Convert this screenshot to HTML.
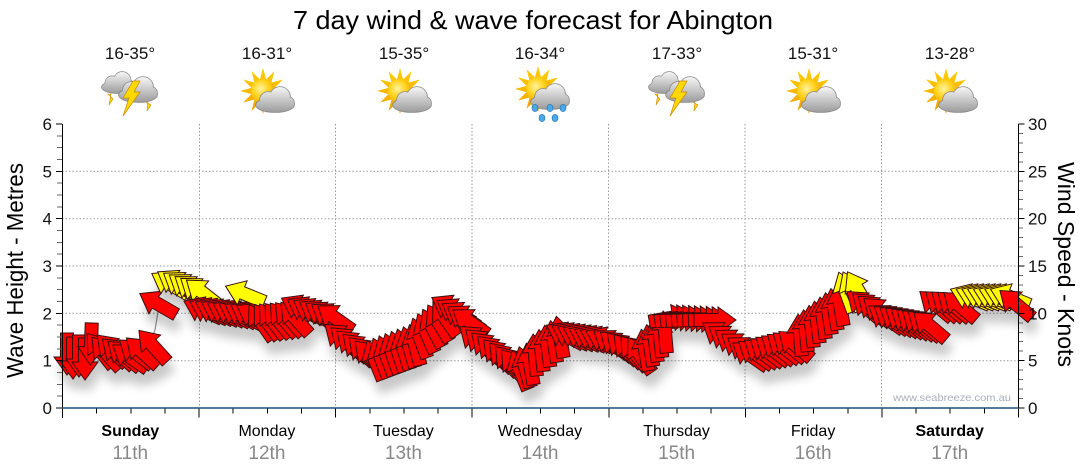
<!DOCTYPE html>
<html><head><meta charset="utf-8">
<style>
html,body{margin:0;padding:0;background:#fff;}
svg{display:block;}
text{font-family:"Liberation Sans",Arial,sans-serif;}
</style></head>
<body>
<svg width="1080" height="475" viewBox="0 0 1080 475" xmlns="http://www.w3.org/2000/svg">
<defs>
  <radialGradient id="sunG" cx="0.4" cy="0.4" r="0.7">
    <stop offset="0" stop-color="#fff2a0"/><stop offset="0.5" stop-color="#ffd21a"/><stop offset="1" stop-color="#f0a000"/>
  </radialGradient>
  <linearGradient id="rayG" x1="0" y1="0" x2="0" y2="1">
    <stop offset="0" stop-color="#ffd000"/><stop offset="1" stop-color="#f0a000"/>
  </linearGradient>
  <linearGradient id="cloudG" gradientUnits="userSpaceOnUse" x1="0" y1="-13" x2="0" y2="12">
    <stop offset="0" stop-color="#f6f6f6"/><stop offset="1" stop-color="#9c9c9c"/>
  </linearGradient>
  <g id="cloud">
    <g fill="#8a8a8a" stroke="#8a8a8a" stroke-width="1.6">
      <ellipse cx="0" cy="5" rx="19" ry="7"/><circle cx="-7" cy="0" r="8"/><circle cx="5" cy="-3" r="10"/><circle cx="13" cy="3" r="6"/>
    </g>
    <g fill="url(#cloudG)">
      <ellipse cx="0" cy="5" rx="19" ry="7"/><circle cx="-7" cy="0" r="8"/><circle cx="5" cy="-3" r="10"/><circle cx="13" cy="3" r="6"/>
    </g>
  </g>
  <g id="sun">
    <polygon fill="url(#rayG)" points="23,0 11.6,3.1 19.9,11.5 8.5,8.5 11.5,19.9 3.1,11.6 0,23 -3.1,11.6 -11.5,19.9 -8.5,8.5 -19.9,11.5 -11.6,3.1 -23,0 -11.6,-3.1 -19.9,-11.5 -8.5,-8.5 -11.5,-19.9 -3.1,-11.6 0,-23 3.1,-11.6 11.5,-19.9 8.5,-8.5 19.9,-11.5 11.6,-3.1"/>
    <circle r="12" fill="url(#sunG)"/>
  </g>
  <g id="sunc">
    <use href="#sun" x="-4" y="91"/>
    <use href="#cloud" x="8" y="100"/>
  </g>
  <g id="rain">
    <use href="#sun" x="-2" y="89"/>
    <use href="#cloud" x="10" y="97"/>
    <g fill="#4aa8e8" stroke="#1f6fb0" stroke-width="0.6">
      <ellipse cx="-5" cy="108" rx="3" ry="3.6"/><ellipse cx="10" cy="108" rx="3" ry="3.6"/><ellipse cx="23" cy="108" rx="3" ry="3.6"/>
      <ellipse cx="2" cy="118" rx="3" ry="3.6"/><ellipse cx="15" cy="118" rx="3" ry="3.6"/>
    </g>
  </g>
  <g id="bolt">
    <polygon points="3,-9 -7,8 -1,8 -7,26 10,2 4,2 10,-9" fill="#ffd800" stroke="#c98a00" stroke-width="0.7"/>
  </g>
  <g id="storm">
    <g fill="#ffd800" stroke="#c98a00" stroke-width="0.6">
      <polygon points="-22,94 -19,94 -21,105 -17,99"/>
      <polygon points="14,101 18,101 17,111 21,105"/>
    </g>
    <g transform="translate(-12,83) scale(0.85)"><use href="#cloud"/></g>
    <use href="#cloud" x="8" y="90"/>
    <use href="#bolt" x="0" y="90"/>
  </g>
  <filter id="sh" filterUnits="userSpaceOnUse" x="0" y="0" width="1080" height="475">
    <feGaussianBlur in="SourceAlpha" stdDeviation="5"/>
    <feOffset dx="3" dy="12" result="b"/>
    <feComponentTransfer in="b" result="c"><feFuncA type="linear" slope="0.22"/></feComponentTransfer>
    <feMerge><feMergeNode in="c"/><feMergeNode in="SourceGraphic"/></feMerge>
  </filter>
  <polygon id="ar" points="-21,-6.5 3,-6.5 3,-13 21,0 3,13 3,6.5 -21,6.5" stroke="#3a1010" stroke-width="1" stroke-linejoin="miter"/>
</defs>

<!-- Title -->
<text x="293" y="29" font-size="26" textLength="480" lengthAdjust="spacingAndGlyphs" fill="#000">7 day wind &amp; wave forecast for Abington</text>

<!-- temps -->
<g font-size="17" fill="#111" text-anchor="middle">
  <text x="130" y="59">16-35°</text>
  <text x="267" y="59">16-31°</text>
  <text x="404" y="59">15-35°</text>
  <text x="540" y="59">16-34°</text>
  <text x="677" y="59">17-33°</text>
  <text x="813" y="59">15-31°</text>
  <text x="950" y="59">13-28°</text>
</g>

<!-- icons -->
<use href="#storm" x="130" y="0"/>
<use href="#sunc" x="267" y="0"/>
<use href="#sunc" x="404" y="0"/>
<use href="#rain" x="540" y="0"/>
<use href="#storm" x="677" y="0"/>
<use href="#sunc" x="813" y="0"/>
<use href="#sunc" x="950" y="0"/>

<!-- grid -->
<g stroke="#9a9a9a" stroke-width="1" stroke-dasharray="1.5,2" fill="none">
  <line x1="62" y1="360.7" x2="1018" y2="360.7"/>
  <line x1="62" y1="313.3" x2="1018" y2="313.3"/>
  <line x1="62" y1="266" x2="1018" y2="266"/>
  <line x1="62" y1="218.7" x2="1018" y2="218.7"/>
  <line x1="62" y1="171.3" x2="1018" y2="171.3"/>
  <line x1="199.5" y1="124" x2="199.5" y2="408"/>
  <line x1="335.5" y1="124" x2="335.5" y2="408"/>
  <line x1="472" y1="124" x2="472" y2="408"/>
  <line x1="608.5" y1="124" x2="608.5" y2="408"/>
  <line x1="745" y1="124" x2="745" y2="408"/>
  <line x1="881.5" y1="124" x2="881.5" y2="408"/>
</g>

<!-- watermark -->
<text x="893" y="401" font-size="10.5" fill="#a9aebb" textLength="118" lengthAdjust="spacingAndGlyphs">www.seabreeze.com.au</text>

<!-- wave line fragment -->
<polyline points="152,338 155,330 158,312 163,303" fill="none" stroke="#8c8c8c" stroke-width="1.2"/>

<!-- arrows -->
<g filter="url(#sh)">
  <g fill="#ff0000">
    <!-- Sunday -->
    <use href="#ar" transform="translate(67,354) rotate(90)"/>
    <use href="#ar" transform="translate(73,358) rotate(90)"/>
    <use href="#ar" transform="translate(79,356) rotate(90)"/>
    <use href="#ar" transform="translate(85,359) rotate(90)"/>
    <use href="#ar" transform="translate(91,344) rotate(92)"/>
    <use href="#ar" transform="translate(100,350) rotate(-128)"/>
    <use href="#ar" transform="translate(106,353) rotate(-132)"/>
    <use href="#ar" transform="translate(112,350) rotate(-135)"/>
    <use href="#ar" transform="translate(118,353) rotate(-138)"/>
    <use href="#ar" transform="translate(124,355) rotate(-140)"/>
    <use href="#ar" transform="translate(130,357) rotate(-145)"/>
    <use href="#ar" transform="translate(136,353) rotate(-142)"/>
    <use href="#ar" transform="translate(142,352) rotate(-138)"/>
    <use href="#ar" transform="translate(153,346) rotate(-132)"/>
    <use href="#ar" transform="translate(158,304) rotate(-150)"/>
  </g>
  <g fill="#ffff00">
    <use href="#ar" transform="translate(170,284) rotate(-150)"/>
    <use href="#ar" transform="translate(175.5,283) rotate(-148)"/>
    <use href="#ar" transform="translate(181,285) rotate(-146)"/>
    <use href="#ar" transform="translate(186.5,287) rotate(-145)"/>
    <use href="#ar" transform="translate(192,289) rotate(-144)"/>
    <use href="#ar" transform="translate(197.5,291) rotate(-143)"/>
    <use href="#ar" transform="translate(203,293) rotate(-142)"/>
  </g>
  <g fill="#ff0000">
    <use href="#ar" transform="translate(203,310) rotate(-155)"/>
    <use href="#ar" transform="translate(208.8,310.7) rotate(-154.4)"/>
    <use href="#ar" transform="translate(214.6,311.3) rotate(-153.9)"/>
    <use href="#ar" transform="translate(220.3,312) rotate(-153.3)"/>
    <use href="#ar" transform="translate(226.1,312.7) rotate(-152.8)"/>
    <use href="#ar" transform="translate(231.9,313.3) rotate(-152.2)"/>
    <use href="#ar" transform="translate(237.7,314) rotate(-151.7)"/>
    <use href="#ar" transform="translate(243.4,314.7) rotate(-151.1)"/>
    <use href="#ar" transform="translate(249.2,315.3) rotate(-150.6)"/>
    <use href="#ar" transform="translate(255,316) rotate(-150)"/>
  </g>
  <use href="#ar" fill="#ffff00" transform="translate(245,294) rotate(-158)"/>
  <g fill="#ff0000">
    <use href="#ar" transform="translate(261,322) rotate(-125)"/>
    <use href="#ar" transform="translate(266.7,321.3) rotate(-126.2)"/>
    <use href="#ar" transform="translate(272.3,320.7) rotate(-127.3)"/>
    <use href="#ar" transform="translate(278,320) rotate(-128.5)"/>
    <use href="#ar" transform="translate(283.7,319.3) rotate(-129.7)"/>
    <use href="#ar" transform="translate(289.3,318.7) rotate(-130.8)"/>
    <use href="#ar" transform="translate(295,318) rotate(-132)"/>
    <use href="#ar" transform="translate(300,308) rotate(-152)"/>
    <use href="#ar" transform="translate(305.8,309.7) rotate(-150.8)"/>
    <use href="#ar" transform="translate(311.7,311.3) rotate(-149.7)"/>
    <use href="#ar" transform="translate(317.5,313) rotate(-148.5)"/>
    <use href="#ar" transform="translate(323.3,314.7) rotate(-147.3)"/>
    <use href="#ar" transform="translate(329.2,316.3) rotate(-146.2)"/>
    <use href="#ar" transform="translate(335,318) rotate(-145)"/>
    <!-- Tuesday -->
    <use href="#ar" transform="translate(341,338) rotate(-140)"/>
    <use href="#ar" transform="translate(346.8,341.6) rotate(-139)"/>
    <use href="#ar" transform="translate(352.6,345.2) rotate(-138)"/>
    <use href="#ar" transform="translate(358.4,348.8) rotate(-137)"/>
    <use href="#ar" transform="translate(364.2,352.4) rotate(-136)"/>
    <use href="#ar" transform="translate(370,356) rotate(-135)"/>
    <use href="#ar" transform="translate(375,360) rotate(-112)"/>
    <use href="#ar" transform="translate(380.7,357.9) rotate(-111)"/>
    <use href="#ar" transform="translate(386.4,355.7) rotate(-110)"/>
    <use href="#ar" transform="translate(392.1,353.6) rotate(-109)"/>
    <use href="#ar" transform="translate(397.9,351.4) rotate(-108)"/>
    <use href="#ar" transform="translate(403.6,349.3) rotate(-107)"/>
    <use href="#ar" transform="translate(409.3,347.1) rotate(-106)"/>
    <use href="#ar" transform="translate(415,345) rotate(-105)"/>
    <use href="#ar" transform="translate(420,338) rotate(-110)"/>
    <use href="#ar" transform="translate(426.3,333) rotate(-113.8)"/>
    <use href="#ar" transform="translate(432.5,328) rotate(-117.5)"/>
    <use href="#ar" transform="translate(438.8,323) rotate(-121.3)"/>
    <use href="#ar" transform="translate(445,318) rotate(-125)"/>
    <use href="#ar" transform="translate(450,308) rotate(-150)"/>
    <use href="#ar" transform="translate(455,311.5) rotate(-148.8)"/>
    <use href="#ar" transform="translate(460,315) rotate(-147.5)"/>
    <use href="#ar" transform="translate(465,318.5) rotate(-146.3)"/>
    <use href="#ar" transform="translate(470,322) rotate(-145)"/>
    <!-- Wednesday -->
    <use href="#ar" transform="translate(476,340) rotate(-140)"/>
    <use href="#ar" transform="translate(481.6,343.7) rotate(-138.6)"/>
    <use href="#ar" transform="translate(487.1,347.4) rotate(-137.1)"/>
    <use href="#ar" transform="translate(492.7,351.1) rotate(-135.7)"/>
    <use href="#ar" transform="translate(498.3,354.9) rotate(-134.3)"/>
    <use href="#ar" transform="translate(503.9,358.6) rotate(-132.9)"/>
    <use href="#ar" transform="translate(509.4,362.3) rotate(-131.4)"/>
    <use href="#ar" transform="translate(515,366) rotate(-130)"/>
    <use href="#ar" transform="translate(520,370) rotate(-112)"/>
    <use href="#ar" transform="translate(525,367) rotate(-106)"/>
    <use href="#ar" transform="translate(530,364) rotate(-100)"/>
    <use href="#ar" transform="translate(535,355) rotate(-95)"/>
    <use href="#ar" transform="translate(541.3,350.5) rotate(-96.3)"/>
    <use href="#ar" transform="translate(547.5,346) rotate(-97.5)"/>
    <use href="#ar" transform="translate(553.8,341.5) rotate(-98.8)"/>
    <use href="#ar" transform="translate(560,337) rotate(-100)"/>
    <use href="#ar" transform="translate(565,335) rotate(-152)"/>
    <use href="#ar" transform="translate(570.7,335.7) rotate(-152.4)"/>
    <use href="#ar" transform="translate(576.4,336.4) rotate(-152.9)"/>
    <use href="#ar" transform="translate(582.1,337.1) rotate(-153.3)"/>
    <use href="#ar" transform="translate(587.9,337.9) rotate(-153.7)"/>
    <use href="#ar" transform="translate(593.6,338.6) rotate(-154.1)"/>
    <use href="#ar" transform="translate(599.3,339.3) rotate(-154.6)"/>
    <use href="#ar" transform="translate(605,340) rotate(-155)"/>
    <!-- Thursday -->
    <use href="#ar" transform="translate(611,343) rotate(-145)"/>
    <use href="#ar" transform="translate(616.8,345.4) rotate(-141)"/>
    <use href="#ar" transform="translate(622.6,347.8) rotate(-137)"/>
    <use href="#ar" transform="translate(628.4,350.2) rotate(-133)"/>
    <use href="#ar" transform="translate(634.2,352.6) rotate(-129)"/>
    <use href="#ar" transform="translate(640,355) rotate(-125)"/>
    <use href="#ar" transform="translate(645,350) rotate(-100)"/>
    <use href="#ar" transform="translate(650,345.5) rotate(-98.8)"/>
    <use href="#ar" transform="translate(655,341) rotate(-97.5)"/>
    <use href="#ar" transform="translate(660,336.5) rotate(-96.3)"/>
    <use href="#ar" transform="translate(665,332) rotate(-95)"/>
    <use href="#ar" transform="translate(670,318) rotate(-10)"/>
    <use href="#ar" transform="translate(675.6,318.3) rotate(-8.8)"/>
    <use href="#ar" transform="translate(681.3,318.5) rotate(-7.5)"/>
    <use href="#ar" transform="translate(686.9,318.8) rotate(-6.3)"/>
    <use href="#ar" transform="translate(692.5,319) rotate(-5)"/>
    <use href="#ar" transform="translate(698.1,319.3) rotate(-3.8)"/>
    <use href="#ar" transform="translate(703.8,319.5) rotate(-2.5)"/>
    <use href="#ar" transform="translate(709.4,319.8) rotate(-1.3)"/>
    <use href="#ar" transform="translate(715,320) rotate(0)"/>
    <use href="#ar" transform="translate(720,335) rotate(-145)"/>
    <use href="#ar" transform="translate(726.3,338.8) rotate(-145)"/>
    <use href="#ar" transform="translate(732.5,342.5) rotate(-145)"/>
    <use href="#ar" transform="translate(738.8,346.3) rotate(-145)"/>
    <use href="#ar" transform="translate(745,350) rotate(-145)"/>
    <!-- Friday -->
    <use href="#ar" transform="translate(750,355) rotate(-145)"/>
    <use href="#ar" transform="translate(755.6,353.8) rotate(-144.4)"/>
    <use href="#ar" transform="translate(761.3,352.5) rotate(-143.8)"/>
    <use href="#ar" transform="translate(766.9,351.3) rotate(-143.1)"/>
    <use href="#ar" transform="translate(772.5,350) rotate(-142.5)"/>
    <use href="#ar" transform="translate(778.1,348.8) rotate(-141.9)"/>
    <use href="#ar" transform="translate(783.8,347.5) rotate(-141.3)"/>
    <use href="#ar" transform="translate(789.4,346.3) rotate(-140.6)"/>
    <use href="#ar" transform="translate(795,345) rotate(-140)"/>
    <use href="#ar" transform="translate(800,335) rotate(-95)"/>
    <use href="#ar" transform="translate(805.7,330.7) rotate(-95.7)"/>
    <use href="#ar" transform="translate(811.4,326.4) rotate(-96.4)"/>
    <use href="#ar" transform="translate(817.1,322.1) rotate(-97.1)"/>
    <use href="#ar" transform="translate(822.9,317.9) rotate(-97.9)"/>
    <use href="#ar" transform="translate(828.6,313.6) rotate(-98.6)"/>
    <use href="#ar" transform="translate(834.3,309.3) rotate(-99.3)"/>
    <use href="#ar" transform="translate(840,305) rotate(-100)"/>
  </g>
  <g fill="#ffff00">
    <use href="#ar" transform="translate(846,292) rotate(-110)"/>
    <use href="#ar" transform="translate(852,291) rotate(-115)"/>
    <use href="#ar" transform="translate(858,290) rotate(-120)"/>
  </g>
  <g fill="#ff0000">
    <use href="#ar" transform="translate(863,305) rotate(-140)"/>
    <use href="#ar" transform="translate(868.7,307.3) rotate(-140)"/>
    <use href="#ar" transform="translate(874.3,309.7) rotate(-140)"/>
    <use href="#ar" transform="translate(880,312) rotate(-140)"/>
    <!-- Saturday -->
    <use href="#ar" transform="translate(886,318) rotate(-145)"/>
    <use href="#ar" transform="translate(891.5,319) rotate(-144.4)"/>
    <use href="#ar" transform="translate(897,320) rotate(-143.8)"/>
    <use href="#ar" transform="translate(902.5,321) rotate(-143.1)"/>
    <use href="#ar" transform="translate(908,322) rotate(-142.5)"/>
    <use href="#ar" transform="translate(913.5,323) rotate(-141.9)"/>
    <use href="#ar" transform="translate(919,324) rotate(-141.3)"/>
    <use href="#ar" transform="translate(924.5,325) rotate(-140.6)"/>
    <use href="#ar" transform="translate(930,326) rotate(-140)"/>
    <use href="#ar" transform="translate(936,305) rotate(-140)"/>
    <use href="#ar" transform="translate(942,305.3) rotate(-140)"/>
    <use href="#ar" transform="translate(948,305.5) rotate(-140)"/>
    <use href="#ar" transform="translate(954,305.8) rotate(-140)"/>
    <use href="#ar" transform="translate(960,306) rotate(-140)"/>
  </g>
  <g fill="#ffff00">
    <use href="#ar" transform="translate(970,297) rotate(-158)"/>
    <use href="#ar" transform="translate(975.7,297) rotate(-158)"/>
    <use href="#ar" transform="translate(981.4,297) rotate(-158)"/>
    <use href="#ar" transform="translate(987.1,297) rotate(-158)"/>
    <use href="#ar" transform="translate(992.9,297) rotate(-158)"/>
    <use href="#ar" transform="translate(998.6,297) rotate(-158)"/>
    <use href="#ar" transform="translate(1004.3,297) rotate(-158)"/>
    <use href="#ar" transform="translate(1010,297) rotate(-158)"/>
  </g>
  <use href="#ar" fill="#ff0000" transform="translate(1016,304) rotate(-140)"/>
</g>

<!-- axes -->
<g shape-rendering="crispEdges">
  <line x1="62.5" y1="124" x2="62.5" y2="418" stroke="#000" stroke-width="1"/>
  <line x1="1018.5" y1="124" x2="1018.5" y2="408" stroke="#000" stroke-width="1"/>
  <line x1="59.5" y1="408.5" x2="59.5" y2="123" stroke="#666" stroke-width="5" stroke-dasharray="1 10.8333"/>
  <line x1="59" y1="408.5" x2="59" y2="123" stroke="#000" stroke-width="6" stroke-dasharray="1 46.3333"/>
  <line x1="1021" y1="408.5" x2="1021" y2="123" stroke="#666" stroke-width="4" stroke-dasharray="1 8.4667"/>
  <line x1="1021.5" y1="408.5" x2="1021.5" y2="123" stroke="#000" stroke-width="6" stroke-dasharray="1 46.3333"/>
  <line x1="62" y1="411" x2="1020" y2="411" stroke="#000" stroke-width="5" stroke-dasharray="1 33.1429"/>
  <line x1="62" y1="413" x2="1020" y2="413" stroke="#000" stroke-width="9" stroke-dasharray="1 135.5714"/>
</g>
<line x1="62" y1="408" x2="1018" y2="408" stroke="#1d4f78" stroke-width="1.6"/>

<!-- left labels -->
<g font-size="17" fill="#111" text-anchor="end">
  <text x="52" y="414">0</text>
  <text x="52" y="366.7">1</text>
  <text x="52" y="319.3">2</text>
  <text x="52" y="272">3</text>
  <text x="52" y="224.7">4</text>
  <text x="52" y="177.3">5</text>
  <text x="52" y="130">6</text>
</g>
<g font-size="17" fill="#111" text-anchor="start">
  <text x="1028" y="414">0</text>
  <text x="1028" y="366.7">5</text>
  <text x="1028" y="319.3">10</text>
  <text x="1028" y="272">15</text>
  <text x="1028" y="224.7">20</text>
  <text x="1028" y="177.3">25</text>
  <text x="1028" y="130">30</text>
</g>

<text transform="translate(23,270.5) rotate(-90)" font-size="23" text-anchor="middle" textLength="215" lengthAdjust="spacingAndGlyphs" fill="#000">Wave Height - Metres</text>
<text transform="translate(1058,264.5) rotate(90)" font-size="23" text-anchor="middle" textLength="205" lengthAdjust="spacingAndGlyphs" fill="#000">Wind Speed - Knots</text>

<!-- day labels -->
<g font-size="16" fill="#000" text-anchor="middle">
  <text x="130.3" y="436" font-weight="bold">Sunday</text>
  <text x="266.9" y="436">Monday</text>
  <text x="403.4" y="436">Tuesday</text>
  <text x="540" y="436">Wednesday</text>
  <text x="676.6" y="436">Thursday</text>
  <text x="813.1" y="436">Friday</text>
  <text x="949.7" y="436" font-weight="bold">Saturday</text>
</g>
<g font-size="19" fill="#888" text-anchor="middle">
  <text x="130.3" y="459">11th</text>
  <text x="266.9" y="459">12th</text>
  <text x="403.4" y="459">13th</text>
  <text x="540" y="459">14th</text>
  <text x="676.6" y="459">15th</text>
  <text x="813.1" y="459">16th</text>
  <text x="949.7" y="459">17th</text>
</g>
</svg>
</body></html>
